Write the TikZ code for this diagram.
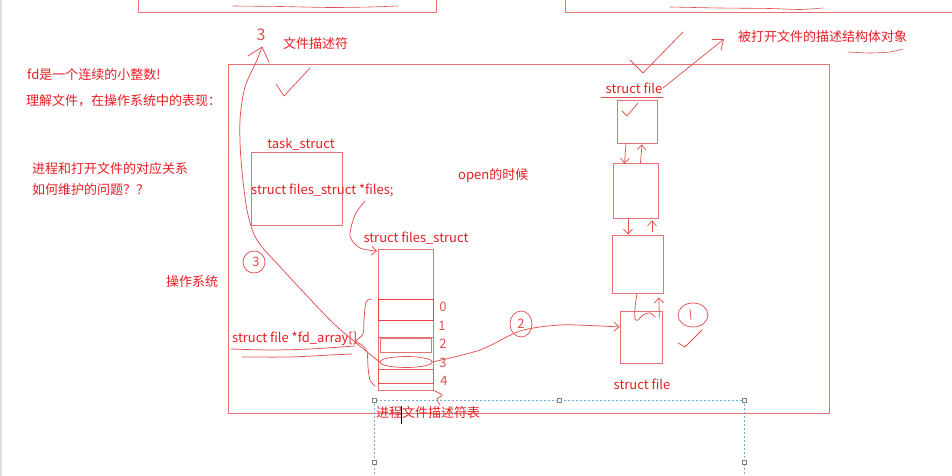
\documentclass[tikz,border=0pt]{standalone}
\usepackage{fontspec}
\newfontfamily\cjk{Noto Sans CJK SC}
\usetikzlibrary{arrows.meta,shapes.geometric}
\definecolor{tred}{RGB}{230,30,36}
\definecolor{fred}{RGB}{230,115,115}
\definecolor{hred}{RGB}{226,80,80}
\definecolor{selblue}{RGB}{120,170,215}
\begin{document}
\begin{tikzpicture}[x=1pt,y=-1pt,
  txt/.style={text=tred, font=\cjk\fontsize{13}{14}\selectfont, inner sep=0pt},
  digit/.style={text=hred, font=\cjk\fontsize{13}{14}\selectfont, inner sep=0pt},
  box/.style={draw=fred, line width=0.7pt, inner sep=0pt},
  hand/.style={draw=hred, line width=0.75pt, line cap=round, line join=round},
  barb/.style={-{Straight Barb[length=5pt,width=9pt]}},
]
\useasboundingbox (0,0) rectangle (952,476);
\fill[white] (0,0) rectangle (952,476);
\fill[blue!8!gray!25] (0,0) rectangle (2,476);

% top boxes (cut off)
\draw[box] (138,-2) -- (138,12) -- (436,12) -- (436,-2);
\draw[box] (565,-2) -- (565,12) -- (953,12);
\draw[hand, line width=0.6pt] plot[smooth] coordinates {(233,6) (280,6.5) (330,7.5) (370,7) (398,6)};
\draw[hand, line width=0.6pt] plot[smooth] coordinates {(670,7) (720,8) (770,8.5) (800,9.5) (823,8)};

% OS frame
\node[box, minimum width=601pt, minimum height=349pt] (osf) at (528.5,238.5) {};

% left texts
\node[txt, anchor=west] (fd) at (27,75) {fd是一个连续的小整数!};
\node[txt, anchor=west] (und) at (26,101) {理解文件，在操作系统中的表现：};
\node[txt, anchor=west] (rel1) at (32,169) {进程和打开文件的对应关系};
\node[txt, anchor=west] (rel2) at (32,190) {如何维护的问题？？};
\node[txt, anchor=west] (os) at (166,282) {操作系统};
\node[txt, anchor=west] (fdesc) at (283,44) {文件描述符};

% task_struct
\node[txt] (taskl) at (301,144) {task\_struct};
\node[box, minimum width=91pt, minimum height=73pt] (task) at (296.5,188.5) {};
\node[txt, anchor=west] (files) at (251,190) {struct files\_struct *files;};
\coordinate (fp) at (365,201);

% files_struct array
\node[txt] (fsl) at (416,238) {struct files\_struct};
\node[box, minimum width=55pt, minimum height=141pt] (arr) at (405.5,319.5) {};
\draw[box, draw=tred!85] (378,299) rectangle (433,320);
\draw[box] (378,337) -- (433,337);
\draw[box] (380,338) rectangle (431,352);
\node[ellipse, draw=hred, line width=0.7pt, minimum width=52pt, minimum height=11pt, inner sep=0pt] (e3) at (406,362) {};
\draw[box, draw=tred!75] (378,369) rectangle (433,383);
\node[digit] (i0) at (443,307) {0};
\node[digit] (i1) at (442,326) {1};
\node[digit] (i2) at (443,344) {2};
\node[digit] (i3) at (443,363) {3};
\node[digit] (i4) at (444,381) {4};

% fd_array text and brace
\node[txt, anchor=west] (fda) at (232,339) {struct file *fd\_array[]};
\draw[hand] plot[smooth] coordinates {(231,349) (270,350) (310,349) (355,346)};
\draw[hand] plot[smooth] coordinates {(242,357) (290,357) (330,355) (352,354)};
\draw[hand] plot[smooth] coordinates {(372,299) (366,302) (364,320) (363,334) (356,341) (362,345) (367,352) (368,367) (370,380) (375,386)};

% open text
\node[txt, anchor=west] (open) at (458,176) {open的时候};

% curve from files pointer to array
\draw[hand, barb] plot[smooth] coordinates {(fp) (355,215) (350,236) (360,248) (377,251)};

% curve 3 up to fd text
\coordinate (top3) at (262,47);
\draw[hand] plot[smooth] coordinates {(e3.west) (355,342) (330,320) (283,270) (257,240) (247,210) (241,160) (240,120) (245,87) (257,60) (top3)};
\draw[hand] (248,56) -- (top3) -- (269,62);
\node[digit, font=\cjk\fontsize{16}{16}\selectfont] (h3) at (261,35) {3};
\draw[hand] (254,262) circle [x radius=11, y radius=11];
\node[digit] (c3) at (256,262) {3};

% linked struct file boxes
\node[txt] (sf1) at (634,88) {struct file};
\draw[hand] (601,97) -- (663,97);
\node[box, minimum width=40pt, minimum height=43pt] (A) at (637,121.5) {};
\node[box, minimum width=45pt, minimum height=55pt] (B) at (635.5,190.5) {};
\node[box, minimum width=51pt, minimum height=58pt] (C) at (637.5,264) {};
\node[box, minimum width=42pt, minimum height=52pt] (D) at (641,337) {};
\node[txt] (sf2) at (642,384) {struct file};

\draw[hand, barb] ([xshift=-11pt]A.south) -- ([xshift=-11pt,yshift=-1pt]B.north);
\draw[hand, barb] ([xshift=5pt]B.north) -- ([xshift=5pt,yshift=-1pt]A.south);
\draw[hand, barb] ([xshift=-7.5pt]B.south) -- ([xshift=-9.5pt]C.north);
\draw[hand, barb] ([xshift=14.5pt,yshift=3pt]C.north) -- ([xshift=16.5pt,yshift=-2pt]B.south);
\draw[hand] plot[smooth] coordinates {([xshift=-0.5pt]C.south) (635,308) (635,319) (638,320) (643,315) (650,313) (655,317)};
\draw[hand, barb] ([xshift=-3pt,yshift=-7pt]D.north east) -- ([xshift=-4.5pt,yshift=-4pt]C.south east);

% checks
\draw[hand] (276,84) -- (284,96) -- (310,68);
\draw[hand] (630,60) -- (643,73) -- (683,32);
\draw[hand] (622,111) -- (627,116) -- (638,103);
\draw[hand] (678,343) -- (685,347) -- (702,330);

% circled 1
\draw[hand] (693,315) ellipse [x radius=15, y radius=12];
\draw[hand] (690,309) -- (691,320);

% curve 2 to struct file
\draw[hand, barb] plot[smooth] coordinates {(e3.east) (480,350) (520,331) (560,325) (600,326) ([yshift=10pt]D.west)};
\draw[hand] (521,324) ellipse [x radius=11, y radius=13];
\node[digit] (c2) at (521,324) {2};

% described object label
\node[txt, anchor=west] (dobj) at (738,37) {被打开文件的描述结构体对象};
\draw[hand, line width=0.6pt] plot[smooth] coordinates {(848,52) (870,53) (890,52) (903,49)};
\draw[hand, -{Straight Barb[length=9pt,width=14pt]}] (663,88) -- ([xshift=-14pt,yshift=-2pt]dobj.west);

% selection box
\draw[selblue, line width=0.6pt, dash pattern=on 2pt off 2pt] (374,478) -- (374,400) -- (744,400) -- (744,478);
\foreach \p in {(374,400),(559,400),(744,400),(374,462),(744,462)}
  \draw[gray, fill=white, line width=0.4pt] \p ++(-1.8,-1.8) rectangle ++(3.6,3.6);
\node[txt, anchor=west] (tbl) at (376,413) {进程文件描述符表};
\draw[black, line width=0.6pt] (401,406) -- (401,424);
\draw[hand] plot[smooth] coordinates {(arr.south east) (442,395) (437,399) (440,405)};
\end{tikzpicture}
\end{document}
